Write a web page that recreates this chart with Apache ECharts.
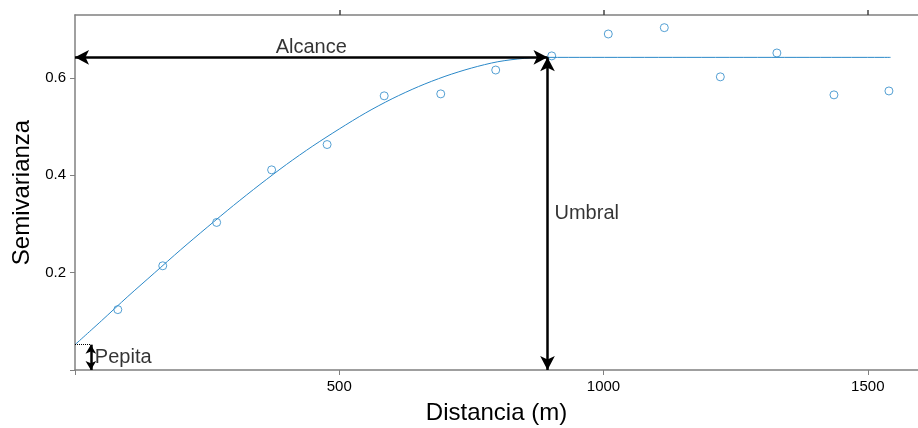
<!DOCTYPE html>
<html>
<head>
<meta charset="utf-8">
<script src="https://cdn.jsdelivr.net/npm/echarts@6/dist/echarts.min.js"></script>
<style>html,body{margin:0;padding:0;background:#fff}#c{width:918px;height:428px}</style>
</head>
<body>
<div id="c"></div>
<script>
// Empirical semivariogram points (distance m, semivariance)
var lagDist = [81, 166, 268, 372, 477, 585, 692, 796, 902, 1009, 1115, 1221, 1328, 1436, 1540];
var semivar = [0.124, 0.214, 0.303, 0.411, 0.463, 0.563, 0.567, 0.616, 0.645, 0.690, 0.703, 0.602, 0.651, 0.565, 0.573];
// Fitted model curve
var curveDist = [0, 50, 100, 150, 200, 250, 300, 350, 400, 450, 500, 550, 600, 650, 700, 750, 800, 850, 894, 1543];
var curveVal = [0.052, 0.101, 0.151, 0.199, 0.247, 0.293, 0.338, 0.381, 0.422, 0.460, 0.495, 0.528, 0.557, 0.582, 0.603, 0.620, 0.633, 0.640, 0.642, 0.642];
// Annotation values
var nugget = 0.052, sill = 0.642, range = 894, nuggetArrowX = 30;
var xTicks = [0, 500, 1000, 1500];
var yTicks = [0, 0.2, 0.4, 0.6];
var annotations = ['Alcance', 'Umbral', 'Pepita'];

var chart = echarts.init(document.getElementById('c'));
var blue = '#2a88c8';
var axisGray = '#808080';
var font = 'Liberation Sans, Arial, sans-serif';

function pairs(a, b) { return a.map(function (v, i) { return [v, b[i]]; }); }

chart.setOption({
  animation: false,
  grid: { left: 75, top: 15, right: 0, bottom: 58, outerBoundsMode: 'none', containLabel: false },
  xAxis: [{
    type: 'value', min: 0, max: 1595, interval: 500, position: 'bottom',
    name: 'Distancia (m)', nameLocation: 'middle', nameGap: 31,
    nameTextStyle: { fontSize: 24, color: '#000', fontFamily: font },
    axisLine: { show: true, lineStyle: { color: axisGray, width: 1.5 } },
    axisTick: { show: true, length: 5, lineStyle: { color: axisGray }, customValues: xTicks },
    axisLabel: { fontSize: 15, color: '#000', fontFamily: font, margin: 9, customValues: xTicks.slice(1),
      formatter: function (v) { return String(v); } },
    splitLine: { show: false }
  }, {
    type: 'value', min: 0, max: 1595, interval: 500, position: 'top',
    axisLine: { show: true, lineStyle: { color: axisGray, width: 1.5 } },
    axisTick: { show: true, length: 5, lineStyle: { color: '#444', width: 1.5 }, customValues: xTicks.slice(1) },
    axisLabel: { show: false },
    splitLine: { show: false }
  }],
  yAxis: {
    type: 'value', min: 0, max: 0.729, interval: 0.2,
    name: 'Semivarianza', nameLocation: 'middle', nameGap: 38,
    nameTextStyle: { fontSize: 24, color: '#000', fontFamily: font },
    axisLine: { show: true, lineStyle: { color: axisGray, width: 1.5 } },
    axisTick: { show: true, length: 5, lineStyle: { color: axisGray }, customValues: yTicks },
    axisLabel: { fontSize: 15, color: '#000', fontFamily: font, margin: 9, customValues: yTicks.slice(1),
      formatter: function (v) { return v.toFixed(1); } },
    splitLine: { show: false }
  },
  series: [{
    type: 'line', data: pairs(curveDist, curveVal), smooth: 0.3, showSymbol: false,
    lineStyle: { color: blue, width: 1 }, silent: true, z: 2,
    markLine: {
      silent: true, animation: false,
      symbol: ['arrow', 'arrow'], symbolSize: [11, 14],
      lineStyle: { color: '#000', width: 2.5, type: 'solid' },
      label: { show: false },
      data: [
        [{ coord: [0, sill] }, { coord: [range, sill] }],
        [{ coord: [range, sill] }, { coord: [range, 0] }],
        [{ coord: [nuggetArrowX, 0], symbolSize: [8, 9] }, { coord: [nuggetArrowX, nugget], symbolSize: [8, 9] }],
        [{ coord: [0, nugget], symbol: 'none', lineStyle: { type: 'dotted', width: 1 } },
         { coord: [nuggetArrowX, nugget], symbol: 'none' }]
      ]
    }
  }, {
    type: 'scatter', data: pairs(lagDist, semivar), symbol: 'circle', symbolSize: 8,
    itemStyle: { color: 'rgba(255,255,255,0)', borderColor: blue, borderWidth: 1 }, z: 3
  }, {
    type: 'scatter', symbolSize: 0, silent: true, z: 4,
    label: { show: true, color: '#000', fontSize: 20, fontFamily: font, formatter: '{@[2]}', textBorderWidth: 0 },
    data: [
      { value: [range / 2, sill, annotations[0]], label: { position: 'top', distance: 0 } },
      { value: [range, sill / 2, annotations[1]], label: { position: 'right', distance: 7 } },
      { value: [nuggetArrowX, nugget / 2, annotations[2]], label: { position: 'right', distance: 4 } }
    ]
  }]
});
</script>
</body>
</html>
